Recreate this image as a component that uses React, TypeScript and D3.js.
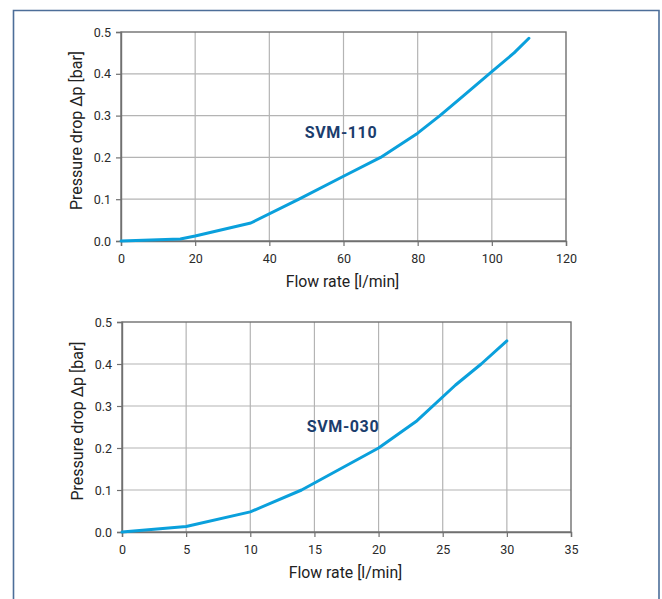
import * as d3 from "d3";
import { useEffect, useRef } from "react";

// SVM-110 curve
const flow110 = [0, 16, 20, 35, 48, 60, 70, 80, 86, 92, 100, 106, 110];
const drop110 = [0, 0.005, 0.012, 0.043, 0.1, 0.155, 0.2, 0.258, 0.3, 0.345, 0.405, 0.45, 0.485];
const xTicks110 = [0, 20, 40, 60, 80, 100, 120];

// SVM-030 curve
const flow030 = [0, 5, 10, 14, 20, 23, 26, 28, 30];
const drop030 = [0, 0.013, 0.048, 0.1, 0.2, 0.265, 0.35, 0.4, 0.455];
const xTicks030 = [0, 5, 10, 15, 20, 25, 30, 35];

const yTicks = [0, 0.1, 0.2, 0.3, 0.4, 0.5];

interface PanelProps {
	flow: number[];
	drop: number[];
	xTicks: number[];
	name: string;
	left: number;
	right: number;
	top: number;
	bottom: number;
	labelPos: [number, number];
}

function drawPanel(svg: d3.Selection<SVGSVGElement, unknown, null, undefined>, p: PanelProps) {
	const xMax = p.xTicks[p.xTicks.length - 1];
	const x = d3.scaleLinear().domain([0, xMax]).range([p.left, p.right]);
	const y = d3.scaleLinear().domain([0, 0.5]).range([p.bottom, p.top]);
	const g = svg.append("g");

	// grid
	g.selectAll(".vgrid")
		.data(p.xTicks.slice(1, -1))
		.enter()
		.append("line")
		.attr("x1", (d) => x(d))
		.attr("x2", (d) => x(d))
		.attr("y1", p.top)
		.attr("y2", p.bottom)
		.attr("stroke", "#b4b4b4")
		.attr("stroke-width", 1.2);
	g.selectAll(".hgrid")
		.data(yTicks.slice(1, -1))
		.enter()
		.append("line")
		.attr("x1", p.left)
		.attr("x2", p.right)
		.attr("y1", (d) => y(d))
		.attr("y2", (d) => y(d))
		.attr("stroke", "#b4b4b4")
		.attr("stroke-width", 1.2);

	// frame
	g.append("rect")
		.attr("x", p.left)
		.attr("y", p.top)
		.attr("width", p.right - p.left)
		.attr("height", p.bottom - p.top)
		.attr("fill", "none")
		.attr("stroke", "#707070")
		.attr("stroke-width", 1.4);

	const xAxis = d3.axisBottom(x).tickValues(p.xTicks).tickSize(5).tickFormat(d3.format("d"));
	const yAxis = d3.axisLeft(y).tickValues(yTicks).tickSize(5).tickFormat(d3.format(".1f"));

	const gx = g.append("g").attr("transform", `translate(0,${p.bottom})`).call(xAxis);
	const gy = g.append("g").attr("transform", `translate(${p.left},0)`).call(yAxis);
	[gx, gy].forEach((ax) => {
		ax.select(".domain").attr("stroke", "#707070").attr("stroke-width", 1.4);
		ax.selectAll(".tick line").attr("stroke", "#707070").attr("stroke-width", 1.2);
		ax.selectAll(".tick text")
			.attr("fill", "#2a2a2a")
			.style("font-family", "Roboto, sans-serif")
			.style("font-size", "12.5px");
	});
	gx.selectAll(".tick text").attr("dy", "1.1em");
	gy.selectAll(".tick text").attr("x", -10);

	// curve
	const pts = p.flow.map((f, i) => [f, p.drop[i]] as [number, number]);
	g.append("path")
		.datum(pts)
		.attr("fill", "none")
		.attr("stroke", "#0aa0dc")
		.attr("stroke-width", 3)
		.attr("stroke-linejoin", "round")
		.attr("stroke-linecap", "round")
		.attr("d", d3.line<[number, number]>().x((d) => x(d[0])).y((d) => y(d[1])));

	g.append("text")
		.attr("x", p.labelPos[0])
		.attr("y", p.labelPos[1])
		.attr("text-anchor", "middle")
		.attr("fill", "#1b3d6d")
		.style("font-family", "Roboto, sans-serif")
		.style("font-weight", "bold")
		.style("font-size", "16px")
		.style("letter-spacing", "0.6px")
		.text(p.name);

	g.append("text")
		.attr("x", (p.left + p.right) / 2 - 1)
		.attr("y", p.bottom + 46)
		.attr("text-anchor", "middle")
		.attr("fill", "#222")
		.style("font-family", "Roboto, sans-serif")
		.style("font-size", "15.8px")
		.text("Flow rate [l/min]");

	g.append("text")
		.attr("transform", `translate(${p.left - 39},${(p.top + p.bottom) / 2 - 6}) rotate(-90)`)
		.attr("text-anchor", "middle")
		.attr("fill", "#222")
		.style("font-family", "Roboto, sans-serif")
		.style("font-size", "16px")
		.text("Pressure drop \u0394p [bar]");
}

export default function App() {
	const ref = useRef<SVGSVGElement>(null);

	useEffect(() => {
		const svg = d3.select(ref.current as SVGSVGElement);
		svg.selectAll("*").remove();

		svg.append("rect")
			.attr("width", 662)
			.attr("height", 599)
			.attr("fill", "#fff");
		svg.append("path")
			.attr("d", "M13.5,605 V10.5 H659 V605")
			.attr("fill", "none")
			.attr("stroke", "#4d6e99")
			.attr("stroke-width", 1.6);

		drawPanel(svg, {
			flow: flow110,
			drop: drop110,
			xTicks: xTicks110,
			name: "SVM-110",
			left: 121,
			right: 566,
			top: 32,
			bottom: 241,
			labelPos: [341, 138],
		});
		drawPanel(svg, {
			flow: flow030,
			drop: drop030,
			xTicks: xTicks030,
			name: "SVM-030",
			left: 122,
			right: 571,
			top: 322,
			bottom: 532,
			labelPos: [343, 432],
		});
	}, []);

	return (
		<svg
			ref={ref}
			width={662}
			height={599}
			style={{ position: "absolute", left: 0, top: 0 }}
		/>
	);
}
